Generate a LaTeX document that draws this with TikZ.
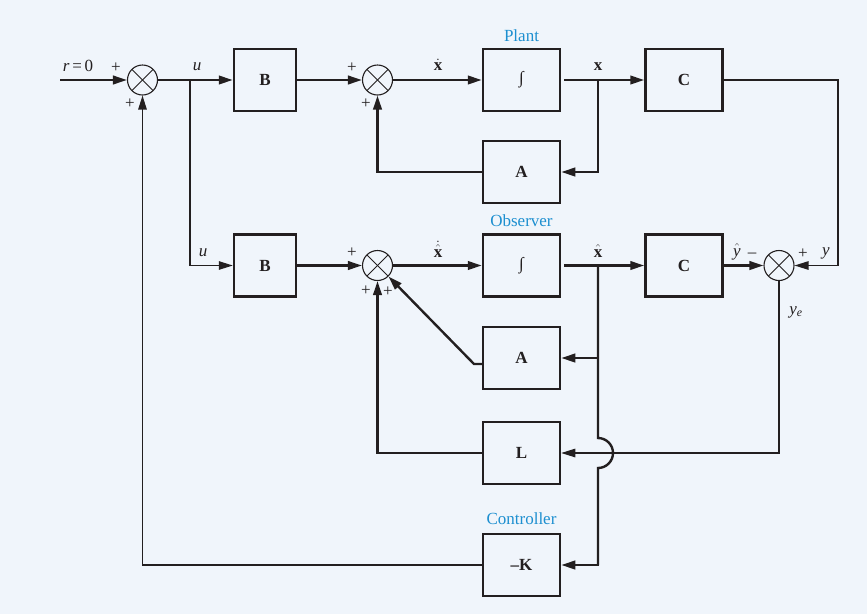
\documentclass[tikz,border=0pt]{standalone}
\usepackage{fontspec}
\setmainfont{Liberation Serif}
\usetikzlibrary{arrows.meta}
\definecolor{bgc}{HTML}{F0F5FB}
\definecolor{lblue}{HTML}{1D8FD0}
\definecolor{ink}{HTML}{231F20}
\begin{document}
\begin{tikzpicture}[x=1pt,y=-1pt,
  every node/.style={font=\fontsize{17}{20}\selectfont, text=ink},
  blk/.style={draw=ink, line width=2.5pt, minimum width=77pt, minimum height=62pt, inner sep=0pt, font=\fontsize{17}{20}\selectfont\bfseries},
  blks/.style={blk, minimum width=62pt},
  sumj/.style={circle, draw=ink, line width=1.1pt, minimum size=30pt, inner sep=0pt,
    path picture={
      \draw[line width=0.9pt, ink] ([shift={(-10.6pt,10.6pt)}]path picture bounding box.center) -- ([shift={(10.6pt,-10.6pt)}]path picture bounding box.center);
      \draw[line width=0.9pt, ink] ([shift={(-10.6pt,-10.6pt)}]path picture bounding box.center) -- ([shift={(10.6pt,10.6pt)}]path picture bounding box.center);
    }},
  thk/.style={draw=ink, line width=2.4pt},
  thn/.style={draw=ink, line width=1.2pt},
  arr/.style={-{Triangle[length=14pt,width=8.5pt]}},
  lbl/.style={text=lblue, font=\fontsize{17}{20}\selectfont},
  sgn/.style={inner sep=0pt, font=\fontsize{17}{20}\selectfont}
]
\fill[bgc] (0,0) rectangle (867,614);
\useasboundingbox (0,0) rectangle (867,614);

% summing junctions
\node[sumj] (s1) at (142.5,80) {};
\node[sumj] (s2) at (377.5,80) {};
\node[sumj] (s4) at (377.5,265.5) {};
\node[sumj] (s5) at (779,265.5) {};

% blocks
\node[blks] (B1) at (265,80) {B};
\node[blk] (I1) at (521.5,80) {\mdseries\itshape\char"222B};
\node[blk] (C1) at (684,80) {C};
\node[blk] (A1) at (521.5,172) {A};
\node[blks] (B2) at (265,265.5) {B};
\node[blk] (I2) at (521.5,265.5) {\mdseries\itshape\char"222B};
\node[blk] (C2) at (684,265.5) {C};
\node[blk] (A2) at (521.5,358) {A};
\node[blk] (L) at (521.5,453) {L};
\node[blk] (K) at (521.5,565) {\char"2013K};

% group labels
\node[lbl] (plant) at (521.5,36) {Plant};
\node[lbl] (obs) at (521.5,221) {Observer};
\node[lbl] (ctrl) at (521.5,519) {Controller};

% coordinates
\coordinate (rin) at (60,80);
\coordinate (ubr) at (190,80);
\coordinate (ubr2) at (190,265.5);
\coordinate (xbr) at (598,80);
\coordinate (xa1) at (598,172);
\coordinate (a1l) at (377.5,172);
\coordinate (cy1) at (838,80);
\coordinate (cy2) at (838,265.5);
\coordinate (xhbr) at (598,265.5);
\coordinate (xha2) at (598,358);
\coordinate (jtop) at (598,438);
\coordinate (jbot) at (598,468);
\coordinate (xhk) at (598,565);
\coordinate (a2o) at (483,364);
\coordinate (a2k) at (474,364);
\coordinate (ll) at (377.5,453);
\coordinate (ye) at (779,453);
\coordinate (kl) at (142.5,565);

% plant row
\draw[thk,arr] (rin) -- (s1.west);
\draw[thk] (s1.east) -- (ubr);
\draw[thk,arr] (ubr) -- (B1.west);
\draw[thk,arr] (B1.east) -- (s2.west);
\draw[thk,arr] (s2.east) -- (I1.west);
\draw[thk,shorten <=3pt] (I1.east) -- (xbr);
\draw[thk,arr] (xbr) -- (C1.west);
\draw[thk,arr] (xbr) -- (xa1) -- (A1.east);
\draw[thk,arr] (A1.west) -- (a1l) -- (s2.south);
\draw[thn,arr] (C1.east) -- (cy1) -- (cy2) -- (s5.east);

% observer row
\draw[thn,arr] (ubr) -- (ubr2) -- (B2.west);
\draw[thk,arr] (B2.east) -- (s4.west);
\draw[thk,arr] (s4.east) -- (I2.west);
\draw[thk,shorten <=3pt] (I2.east) -- (xhbr);
\draw[thk,arr] (xhbr) -- (C2.west);
\draw[thk,arr] (C2.east) -- (s5.west);
\draw[thk,arr] (xhbr) -- (xha2) -- (A2.east);
\draw[thk] (xhbr) -- (jtop) arc[start angle=90, end angle=-90, radius=15pt] -- (xhk);
\draw[thk,arr] (jbot) -- (xhk) -- (K.east);
\draw[thk,arr] (a2o) -- (a2k) -- (s4.south east);
\draw[thk,arr] (L.west) -- (ll) -- (s4.south);
\draw[thn,arr] (s5.south) -- (ye) -- (L.east);
\draw[thn,arr] (K.west) -- (kl) -- (s1.south);

% signal labels
\node (rlbl) at (78,66) {\itshape r\,\upshape =\,0};
\node[sgn] (p1a) at (116,68) {+};
\node[sgn] (p1b) at (130,104) {+};
\node (u1) at (197,67) {\itshape u};
\node (u2) at (203,253) {\itshape u};
\node[sgn] (p2a) at (352,68) {+};
\node[sgn] (p2b) at (366,104) {+};
\node[inner sep=1pt] (xd) at (438,65) {$\dot{\hbox{\bfseries x}}$};
\node (xl) at (598,67) {\bfseries x};
\node[sgn] (p4a) at (352,253) {+};
\node[sgn] (p4b) at (366,291) {+};
\node[sgn] (p4c) at (388,292) {+};
\node[inner sep=1pt] (xhd) at (438,249) {$\dot{\hat{\hbox{\bfseries x}}}$};
\node (xh) at (598,251) {$\hat{\hbox{\bfseries x}}$};
\node (yh) at (737,252) {$\hat{\hbox{\itshape y}}$};
\node[sgn] (m5) at (752,255) {\char"2013};
\node[sgn] (p5) at (803,254) {+};
\node (yl) at (826,253) {\itshape y};
\node (yel) at (796,312) {\itshape y\textsubscript{e}};
\end{tikzpicture}
\end{document}
